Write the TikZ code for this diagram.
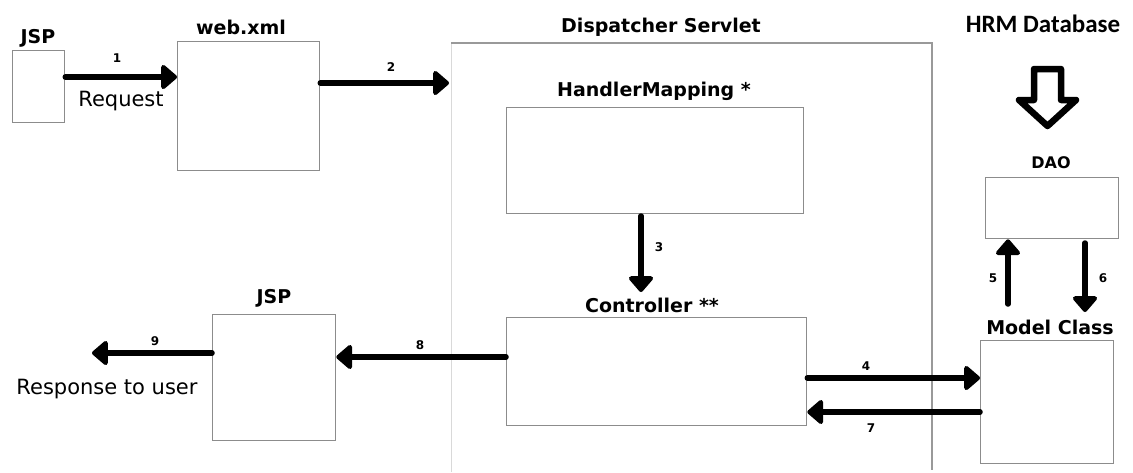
\documentclass[tikz,border=0pt]{standalone}
\usepackage{fontspec}
\setmainfont{DejaVu Sans}
\newfontfamily\carlito{Carlito}
\usetikzlibrary{arrows.meta}
\tikzset{
  boxst/.style={draw=black!45, line width=1.3pt, fill=white, inner sep=0pt, anchor=north west},
  lbl/.style={font=\fontsize{19}{21}\selectfont\bfseries, inner sep=0pt},
  num/.style={font=\fontsize{12}{13}\selectfont\bfseries, inner sep=0pt},
  txt/.style={font=\fontsize{21}{23}\selectfont, inner sep=0pt},
  flow/.style={line width=5.5pt, line cap=round, -{Triangle[width=28pt,length=17pt,round]}},
}
\begin{document}
\begin{tikzpicture}[x=1pt,y=-1pt]
\useasboundingbox (0,0) rectangle (1133,472);
% Dispatcher frame
\draw[black!15, line width=1pt] (451,472) -- (451,43);
\draw[black!40, line width=1.3pt] (451,43) -- (932,43) -- (932,470);
\node[lbl] at (661,27) (dslbl) {Dispatcher Servlet};
% boxes
\node[boxst, minimum width=52pt, minimum height=72pt] (jsp1) at (12,50) {};
\node[lbl] at (38,38) (jsp1l) {JSP};
\node[boxst, minimum width=142pt, minimum height=129pt] (web) at (177,41) {};
\node[lbl] at (241,27) (webl) {web.xml};
\node[boxst, minimum width=297pt, minimum height=106pt] (hm) at (506,107) {};
\node[lbl] at (654,91) (hml) {HandlerMapping *};
\node[boxst, minimum width=300pt, minimum height=108pt] (ctl) at (506,317) {};
\node[lbl] at (652,305) (ctll) {Controller **};
\node[boxst, minimum width=123pt, minimum height=126pt] (jsp2) at (212,314) {};
\node[lbl] at (274,298) (jsp2l) {JSP};
\node[boxst, minimum width=133pt, minimum height=123pt] (mc) at (980,340) {};
\node[lbl] at (1050,327) (mcl) {Model Class};
\node[boxst, minimum width=133pt, minimum height=61pt] (dao) at (985,177) {};
\node[lbl, font=\fontsize{16}{18}\selectfont\bfseries] at (1051,163) (daol) {DAO};
\node[inner sep=0pt, font=\carlito\fontsize{25}{28}\selectfont\bfseries] at (1043,24) (hrm) {HRM Database};
% hollow arrow
\draw[line width=6.5pt, line join=round, fill=white] (1034,69) -- (1061,69) -- (1061,100) -- (1076,100) -- (1047.5,126) -- (1019,100) -- (1034,100) -- cycle;
% coordinates
\coordinate (a9e) at (92,353);
\coordinate (a2e) at (449,83);
% arrows
\draw[flow] (jsp1.east |- 0,77) -- (web.west |- 0,77);
\node[num] at (117,58) (n1) {1};
\node[txt] at (121,101) (req) {Request};
\draw[flow] (web.east |- 0,83) -- (a2e);
\node[num] at (391,67) (n2) {2};
\draw[flow] (641,216) -- (641,292);
\node[num] at (659,247) (n3) {3};
\draw[flow] (ctl.west |- 0,357) -- (jsp2.east |- 0,357);
\node[num] at (420,345) (n8) {8};
\draw[flow] (jsp2.west |- 0,353) -- (a9e);
\node[num] at (155,341) (n9) {9};
\node[txt] at (107,389) (resp) {Response to user};
\draw[flow] (ctl.east |- 0,378) -- (mc.west |- 0,378);
\node[num] at (866,366) (n4) {4};
\draw[flow] (mc.west |- 0,412) -- (ctl.east |- 0,412);
\node[num] at (871,428) (n7) {7};
\draw[flow] (1008,304) -- (dao.south -| 1008,0);
\node[num] at (993,278) (n5) {5};
\draw[flow] (1085,243) -- (1085,312);
\node[num] at (1103,278) (n6) {6};
\end{tikzpicture}
\end{document}
